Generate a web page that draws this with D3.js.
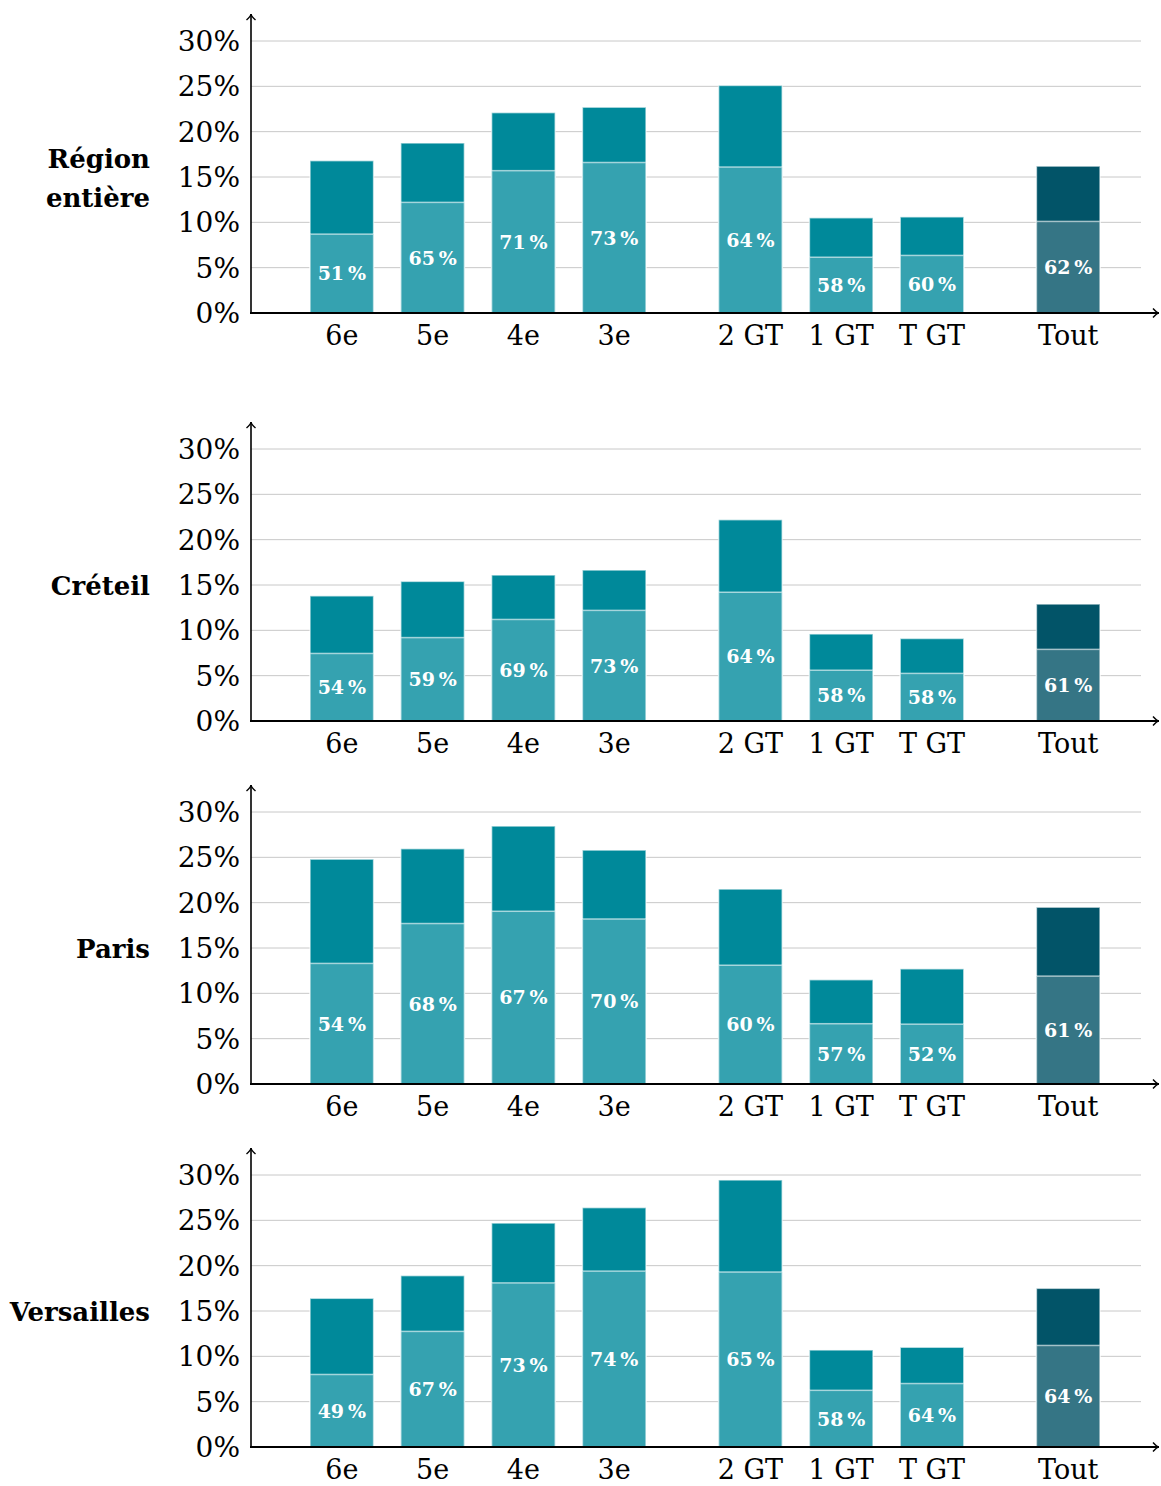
<!DOCTYPE html>
<html>
<head>
<meta charset="utf-8">
<script src="https://cdn.jsdelivr.net/npm/d3@7"></script>
<style>
  body { margin: 0; background: #fff; }
  text { font-family: "DejaVu Serif", serif; }
</style>
</head>
<body>
<script>
// categories and where they sit on the x axis (gaps between groups)
var categories = ["6e", "5e", "4e", "3e", "2 GT", "1 GT", "T GT", "Tout"];
var positions = [1, 2, 3, 4, 5.5, 6.5, 7.5, 9];
var panels = ["Région entière", "Créteil", "Paris", "Versailles"];
var yTicks = [0, 5, 10, 15, 20, 25, 30];

// total height of each bar (%)
var totals = [
  [16.8, 18.75, 22.1, 22.7, 25.1, 10.5, 10.6, 16.2],
  [13.8, 15.4, 16.1, 16.65, 22.2, 9.6, 9.1, 12.9],
  [24.8, 25.95, 28.45, 25.8, 21.5, 11.5, 12.7, 19.5],
  [16.4, 18.9, 24.7, 26.4, 29.45, 10.7, 11.0, 17.5]
];
// lower part of each bar (%)
var lowers = [
  [8.7, 12.2, 15.7, 16.6, 16.1, 6.15, 6.35, 10.1],
  [7.45, 9.2, 11.2, 12.2, 14.2, 5.6, 5.25, 7.9],
  [13.3, 17.7, 19.05, 18.2, 13.1, 6.65, 6.6, 11.9],
  [8.0, 12.75, 18.1, 19.4, 19.3, 6.25, 7.0, 11.2]
];
// share printed in the lower part
var shares = [
  [51, 65, 71, 73, 64, 58, 60, 62],
  [54, 59, 69, 73, 64, 58, 58, 61],
  [54, 68, 67, 70, 60, 57, 52, 61],
  [49, 67, 73, 74, 65, 58, 64, 64]
];

var W = 1161, H = 1486;
var bases = [313, 721, 1084, 1447];
var plotH = 272;
var x = d3.scaleLinear().domain([0, 10]).range([251, 1159]);
var barW = x(0.7) - x(0);

var svg = d3.select("body").append("svg")
  .attr("width", W).attr("height", H);

panels.forEach(function(name, p) {
  var base = bases[p];
  var y = d3.scaleLinear().domain([0, 30]).range([base, base - plotH]);
  var g = svg.append("g");

  // grid lines
  g.selectAll(".grid").data(yTicks.slice(1)).enter().append("line")
    .attr("x1", x(0)).attr("x2", 1141)
    .attr("y1", function(d) { return y(d); })
    .attr("y2", function(d) { return y(d); })
    .attr("stroke", "#c8c8c8").attr("stroke-width", 1);

  // tick labels
  g.selectAll(".tick").data(yTicks).enter().append("text")
    .attr("x", 240).attr("y", function(d) { return y(d); })
    .attr("dy", "0.36em")
    .attr("text-anchor", "end")
    .style("font-size", "28px")
    .text(function(d) { return d + "%"; });

  var rows = categories.map(function(c, i) {
    return { cat: c, pos: positions[i], total: totals[p][i], low: lowers[p][i], share: shares[p][i], last: c == "Tout" };
  });

  // upper part (whole bar)
  g.selectAll(".top").data(rows).enter().append("rect")
    .attr("x", function(d) { return x(d.pos) - barW / 2; })
    .attr("width", barW)
    .attr("y", function(d) { return y(d.total); })
    .attr("height", function(d) { return y(0) - y(d.total); })
    .attr("fill", function(d) { return d.last ? "#025468" : "#00899a"; })
    .attr("stroke", "#ffffff").attr("stroke-opacity", 0.6).attr("stroke-width", 1.5);

  // lower part
  g.selectAll(".low").data(rows).enter().append("rect")
    .attr("x", function(d) { return x(d.pos) - barW / 2; })
    .attr("width", barW)
    .attr("y", function(d) { return y(d.low); })
    .attr("height", function(d) { return y(0) - y(d.low); })
    .attr("fill", function(d) { return d.last ? "#357585" : "#35a2b0"; })
    .attr("stroke", "#ffffff").attr("stroke-opacity", 0.6).attr("stroke-width", 1.5);

  g.selectAll(".lab").data(rows).enter().append("text")
    .attr("x", function(d) { return x(d.pos); })
    .attr("y", function(d) { return (y(d.low) + y(0)) / 2; })
    .attr("dy", "0.36em")
    .attr("text-anchor", "middle")
    .attr("fill", "#ffffff")
    .style("font-size", "19px").style("font-weight", "bold")
    .text(function(d) { return d.share + "\u2009%"; });

  // category labels
  g.selectAll(".cat").data(rows).enter().append("text")
    .attr("x", function(d) { return x(d.pos); })
    .attr("y", base + 32)
    .attr("text-anchor", "middle")
    .style("font-size", "27px")
    .text(function(d) { return d.cat; });

  // axes with arrows
  var top = base - 299;
  g.append("line").attr("x1", x(0)).attr("x2", x(0))
    .attr("y1", base + 1).attr("y2", top)
    .attr("stroke", "#000").attr("stroke-width", 1.6);
  g.append("path")
    .attr("d", "M" + (x(0) - 4.5) + "," + (top + 6) + " Q" + x(0) + "," + (top + 2) + " " + x(0) + "," + top +
               " Q" + x(0) + "," + (top + 2) + " " + (x(0) + 4.5) + "," + (top + 6))
    .attr("fill", "none").attr("stroke", "#000").attr("stroke-width", 1.4);
  g.append("line").attr("x1", x(0) - 1).attr("x2", x(10))
    .attr("y1", base).attr("y2", base)
    .attr("stroke", "#000").attr("stroke-width", 2);
  var r = x(10);
  g.append("path")
    .attr("d", "M" + (r - 6) + "," + (base - 4.5) + " Q" + (r - 2) + "," + base + " " + r + "," + base +
               " Q" + (r - 2) + "," + base + " " + (r - 6) + "," + (base + 4.5))
    .attr("fill", "none").attr("stroke", "#000").attr("stroke-width", 1.4);

  // panel title
  var words = name == "Région entière" ? ["Région", "entière"] : [name];
  var mid = base - plotH / 2;
  var t = g.append("text")
    .attr("text-anchor", "end")
    .style("font-size", "26px").style("font-weight", "bold");
  words.forEach(function(w, k) {
    t.append("tspan").attr("x", 150)
      .attr("y", mid + 10 + (k - (words.length - 1) / 2) * 39)
      .text(w);
  });
});
</script>
</body>
</html>
